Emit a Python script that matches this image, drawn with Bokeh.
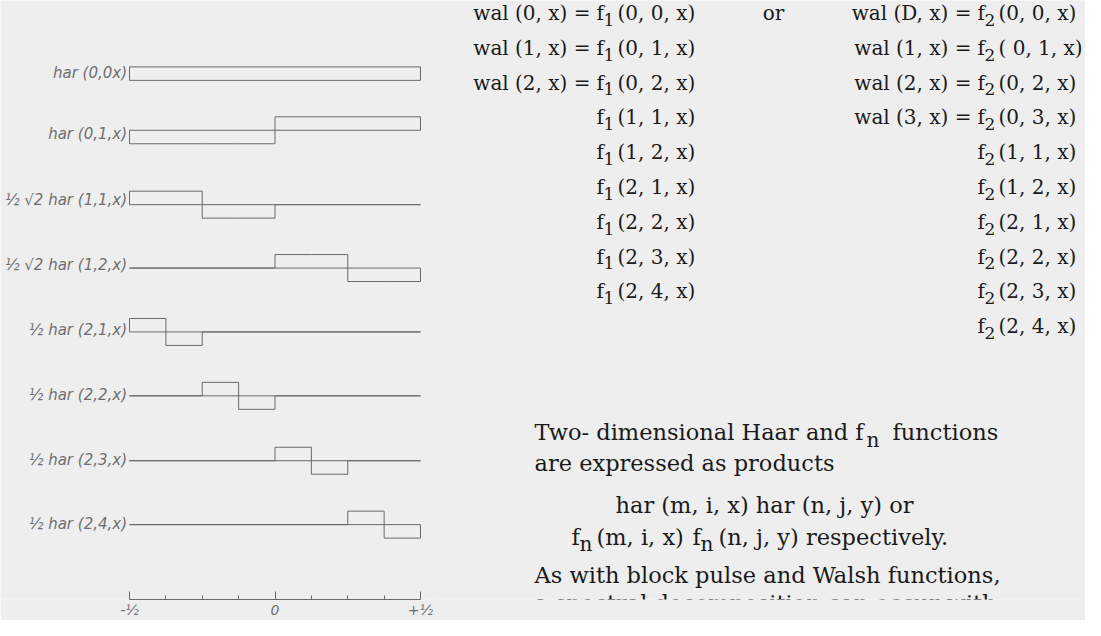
from bokeh.plotting import figure
from bokeh.layouts import row
from bokeh.models import Range1d, FixedTicker
from bokeh.core.properties import value
from bokeh.embed import file_html
from bokeh.resources import INLINE

# ---------------- data ----------------
HAAR_LABELS = [
    "har (0,0x)",
    "har (0,1,x)",
    "½ √2 har (1,1,x)",
    "½ √2 har (1,2,x)",
    "½ har (2,1,x)",
    "½ har (2,2,x)",
    "½ har (2,3,x)",
    "½ har (2,4,x)",
]
# values of each (normalised) Haar function on the 8 sub-intervals of [-1/2, 1/2]
HAR_0_0 = [1, 1, 1, 1, 1, 1, 1, 1]
HAR_0_1 = [-1, -1, -1, -1, 1, 1, 1, 1]
HAR_1_1 = [1, 1, -1, -1, 0, 0, 0, 0]
HAR_1_2 = [0, 0, 0, 0, 1, 1, -1, -1]
HAR_2_1 = [1, -1, 0, 0, 0, 0, 0, 0]
HAR_2_2 = [0, 0, 1, -1, 0, 0, 0, 0]
HAR_2_3 = [0, 0, 0, 0, 1, -1, 0, 0]
HAR_2_4 = [0, 0, 0, 0, 0, 0, 1, -1]
HAAR_VALUES = [HAR_0_0, HAR_0_1, HAR_1_1, HAR_1_2, HAR_2_1, HAR_2_2, HAR_2_3, HAR_2_4]

X_MIN, X_MAX = -0.5, 0.5
TICKS = [-0.5, 0.0, 0.5]
MINOR_TICKS = [-0.375, -0.25, -0.125, 0.125, 0.25, 0.375]
TICK_LABELS = ["-½", "0", "+½"]

LEFT_PREFIX = ["wal (0, x) =", "wal (1, x) =", "wal (2, x) =", "", "", "", "", "", ""]
LEFT_SUB = ["1"] * 9
LEFT_TUPLE = ["(0, 0, x)", "(0, 1, x)", "(0, 2, x)", "(1, 1, x)", "(1, 2, x)",
              "(2, 1, x)", "(2, 2, x)", "(2, 3, x)", "(2, 4, x)"]
RIGHT_PREFIX = ["wal (D, x) =", "wal (1, x) =", "wal (2, x) =", "wal (3, x) =",
                "", "", "", "", "", ""]
RIGHT_SUB = ["2"] * 10
RIGHT_TUPLE = ["(0, 0, x)", "( 0, 1, x)", "(0, 2, x)", "(0, 3, x)", "(1, 1, x)",
               "(1, 2, x)", "(2, 1, x)", "(2, 2, x)", "(2, 3, x)", "(2, 4, x)"]
OR_WORD = "or"

PARA_LINE1 = ["Two- dimensional Haar and f", "n", "functions"]
PARA_LINE2 = "are expressed as products"
PARA_LINE3 = "har (m, i, x) har (n, j, y) or"
PARA_LINE4 = ["f", "n", "(m, i, x)", "f", "n", "(n, j, y) respectively."]
PARA_LINE5 = "As with block pulse and Walsh functions,"
PARA_LINE6 = "a spectral decomposition can occur with"

# ---------------- layout / style ----------------
BG = "#eeeeee"
LINE = "#6a6a6a"
LABEL = "#6e6e6e"
INK = "#1a1a1a"
SERIF = value("DejaVu Serif")

BASELINES = [88, 138, 212.5, 276, 340, 404, 469, 533]
LABEL_Y = [81, 142, 208, 273, 338, 403, 468, 532]
AMP = 13.5

PX_PER_UNIT = 291.0
LW, RW, H = 440, 646, 620
AXIS_PANEL = 20
X_LEFT_PX = 137 - 8

left = figure(width=LW, height=H,
              x_range=Range1d(X_MIN - X_LEFT_PX / PX_PER_UNIT,
                              X_MIN + (LW - X_LEFT_PX) / PX_PER_UNIT),
              y_range=Range1d(8 + H - AXIS_PANEL, 8),
              output_backend="svg", toolbar_location=None,
              x_axis_location="below", y_axis_location=None,
              min_border_left=0, min_border_right=0, min_border_top=0,
              min_border_bottom=AXIS_PANEL,
              background_fill_color=BG, border_fill_color=BG,
              outline_line_color=None)
left.grid.visible = False

ax = left.xaxis[0]
ax.ticker = FixedTicker(ticks=TICKS, minor_ticks=MINOR_TICKS)
ax.bounds = (X_MIN, X_MAX)
ax.major_label_overrides = {t: l for t, l in zip(TICKS, TICK_LABELS)}
ax.major_tick_in = 8
ax.major_tick_out = 0
ax.minor_tick_in = 4
ax.minor_tick_out = 0
ax.axis_line_color = LINE
ax.major_tick_line_color = LINE
ax.minor_tick_line_color = LINE
ax.major_label_text_font = "DejaVu Sans"
ax.major_label_text_font_style = "italic"
ax.major_label_text_font_size = "14px"
ax.major_label_text_color = LABEL
ax.major_label_standoff = 2
ax.axis_label_standoff = 0

n_seg = len(HAR_0_0)
width_seg = (X_MAX - X_MIN) / n_seg
xs, ys = [], []
for base, vals in zip(BASELINES, HAAR_VALUES):
    px, pv = [X_MIN], [0]
    for k, v in enumerate(vals):
        x0 = X_MIN + k * width_seg
        px += [x0, x0 + width_seg]
        pv += [v, v]
    px.append(X_MAX)
    pv.append(0)
    xs.append(px)
    ys.append([base - AMP * v for v in pv])
    xs.append([X_MIN, X_MAX])
    ys.append([base, base])
left.multi_line(xs, ys, line_color=LINE, line_width=1)

left.text(x=[X_MIN - 2.5 / PX_PER_UNIT] * len(HAAR_LABELS), y=LABEL_Y, text=HAAR_LABELS,
          text_align="right", text_baseline="middle",
          text_font=value("DejaVu Sans"), text_font_style="italic",
          text_font_size="15px", text_color=LABEL)

# ---------------- right text panel (page pixel coordinates) ----------------
# the right panel overlaps the left one by one pixel so that no seam shows
R0 = 8 + LW - 1
right = figure(width=RW, height=H,
               x_range=Range1d(R0, R0 + RW), y_range=Range1d(8 + H, 8),
               output_backend="svg", toolbar_location=None,
               x_axis_location=None, y_axis_location=None,
               min_border=0, background_fill_color=BG, border_fill_color=BG,
               outline_line_color=None, margin=(0, 0, 0, -1))
right.grid.visible = False


def put(xv, yv, txt, align="left", size="20px"):
    right.text(x=[xv], y=[yv], text=[txt], text_align=align,
               text_baseline="middle", text_font=SERIF,
               text_font_size=size, text_color=INK)


ROW_Y0, ROW_DY = 21, 36
SUB_DY = 7


def column(fx, prefixes, subs, tuples):
    for i, (pre, sub, tup) in enumerate(zip(prefixes, subs, tuples)):
        y = ROW_Y0 + i * ROW_DY
        if pre:
            put(fx - 6, y, pre, align="right")
        put(fx, y, "f")
        put(fx + 7, y + SUB_DY, sub, size="17px")
        put(fx + 21, y, tup)


column(604, LEFT_PREFIX, LEFT_SUB, LEFT_TUPLE)
column(985, RIGHT_PREFIX, RIGHT_SUB, RIGHT_TUPLE)
put(781, ROW_Y0, OR_WORD, align="center")

PS = "22.5px"
SS = "20px"
put(542, 455, PARA_LINE1[0], size=PS)
put(874, 463, PARA_LINE1[1], size=SS)
put(900, 455, PARA_LINE1[2], size=PS)
put(542, 487, PARA_LINE2, size=PS)
put(623, 530, PARA_LINE3, size=PS)
y4 = 563
put(579, y4, PARA_LINE4[0], size=PS)
put(587, y4 + 8, PARA_LINE4[1], size=SS)
put(604, y4, PARA_LINE4[2], size=PS)
put(700, y4, PARA_LINE4[3], size=PS)
put(708, y4 + 8, PARA_LINE4[4], size=SS)
put(726, y4, PARA_LINE4[5], size=PS)
put(542, 603, PARA_LINE5, size=PS)
put(542, 632, PARA_LINE6, size=PS)

layout = row(left, right, spacing=0)
open("out.html", "w").write(file_html(layout, INLINE))
